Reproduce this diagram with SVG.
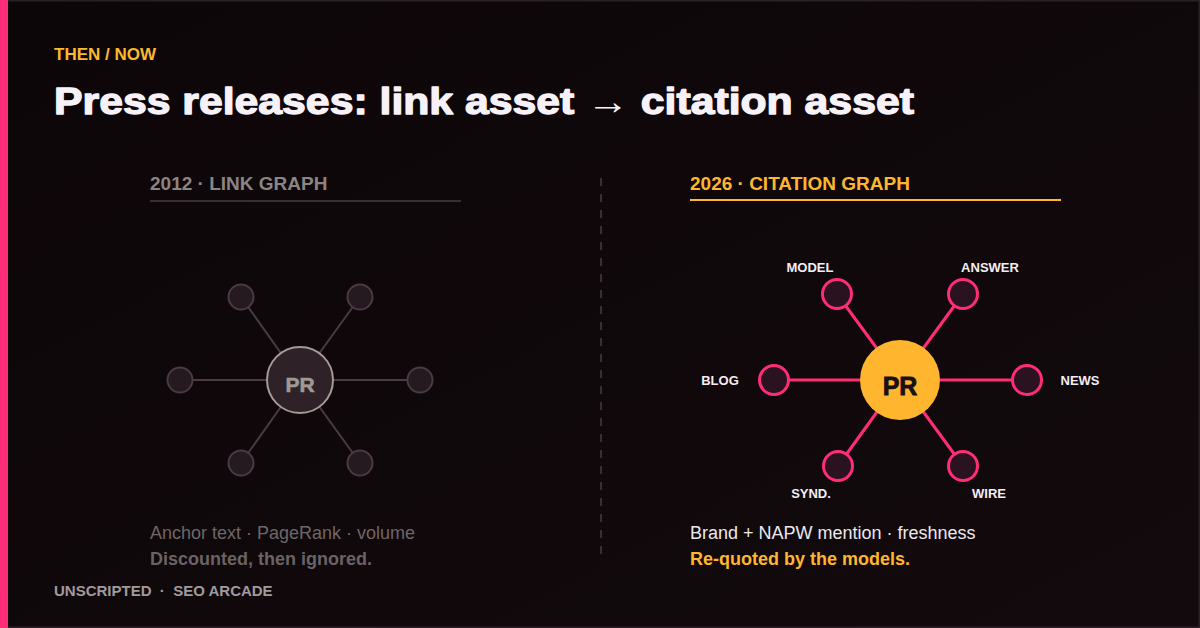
<svg xmlns="http://www.w3.org/2000/svg" width="1200" height="628" viewBox="0 0 1200 628">
<defs>
<style>
text{font-family:"Liberation Sans",Arial,sans-serif}
.b{font-weight:bold}
.ol{stroke:#4a3a44;stroke-width:2}
.os{fill:#241a20;stroke:#4a3a44;stroke-width:2}
.nl{stroke:#ff2d78;stroke-width:3}
.ns{fill:#2a1220;stroke:#ff2d78;stroke-width:3}
.lab{font-size:13px;font-weight:bold;fill:#f4eef4;text-anchor:middle}
</style>
<linearGradient id="bg" x1="0" y1="0" x2="1" y2="1">
<stop offset="0" stop-color="#0d0609"/>
<stop offset="1" stop-color="#120a0c"/>
</linearGradient>
</defs>
<rect width="1200" height="628" fill="url(#bg)"/>
<rect x="0.5" y="0.5" width="1199" height="627" fill="none" stroke="#2a2026" stroke-width="2"/>
<rect x="0" y="0" width="8" height="628" fill="#ff2d78"/>
<text x="54" y="60" class="b" font-size="17" fill="#fbb92e">THEN / NOW</text>
<text transform="translate(54,114) scale(1.155,1)" x="0" y="0" class="b" font-size="37" fill="#f6f2f8" stroke="#f6f2f8" stroke-width="1.3" stroke-linejoin="round">Press releases: link asset <tspan stroke="none" font-weight="normal">→</tspan> citation asset</text>

<g id="header-2012">
<text x="150" y="190" class="b" font-size="19" fill="#8a8482">2012 · LINK GRAPH</text>
<rect x="150" y="200" width="311" height="2" fill="#3a2e34"/>
</g>
<g id="header-2026">
<text x="690" y="190" class="b" font-size="19" fill="#ffb62e">2026 · CITATION GRAPH</text>
<rect x="690" y="199" width="371" height="2" fill="#ffb62e"/>
</g>
<line x1="601" y1="178" x2="601" y2="556" stroke="#3a2f36" stroke-width="2" stroke-dasharray="8 8"/>

<g id="connectors">
<line class="ol" x1="300" y1="380" x2="241" y2="297"/>
<line class="ol" x1="300" y1="380" x2="360" y2="297"/>
<line class="ol" x1="300" y1="380" x2="180" y2="380"/>
<line class="ol" x1="300" y1="380" x2="420" y2="380"/>
<line class="ol" x1="300" y1="380" x2="241" y2="463"/>
<line class="ol" x1="300" y1="380" x2="360" y2="463"/>
<line class="nl" x1="900" y1="380" x2="837" y2="294"/>
<line class="nl" x1="900" y1="380" x2="963" y2="294"/>
<line class="nl" x1="900" y1="380" x2="774" y2="380"/>
<line class="nl" x1="900" y1="380" x2="1027" y2="380"/>
<line class="nl" x1="900" y1="380" x2="838" y2="466"/>
<line class="nl" x1="900" y1="380" x2="963" y2="466"/>
</g>

<g id="old-pr"><circle cx="300" cy="380" r="33" fill="#2e2228" stroke="#a39a98" stroke-width="2"/><text x="300" y="392" class="b" font-size="21" fill="#a09896" text-anchor="middle" stroke="#a09896" stroke-width="0.6">PR</text></g>
<g id="old-1"><circle class="os" cx="241" cy="297" r="12.5"/></g>
<g id="old-2"><circle class="os" cx="360" cy="297" r="12.5"/></g>
<g id="old-3"><circle class="os" cx="180" cy="380" r="12.5"/></g>
<g id="old-4"><circle class="os" cx="420" cy="380" r="12.5"/></g>
<g id="old-5"><circle class="os" cx="241" cy="463" r="12.5"/></g>
<g id="old-6"><circle class="os" cx="360" cy="463" r="12.5"/></g>

<g id="new-pr"><circle cx="900" cy="380" r="40" fill="#ffb62e"/><text x="900" y="395" class="b" font-size="25" fill="#1a0f12" text-anchor="middle" stroke="#1a0f12" stroke-width="0.8">PR</text></g>
<g id="model"><circle class="ns" cx="837" cy="294" r="14.5"/><text class="lab" x="810" y="272">MODEL</text></g>
<g id="answer"><circle class="ns" cx="963" cy="294" r="14.5"/><text class="lab" x="990" y="272">ANSWER</text></g>
<g id="blog"><circle class="ns" cx="774" cy="380" r="14.5"/><text class="lab" x="720" y="385">BLOG</text></g>
<g id="news"><circle class="ns" cx="1027" cy="380" r="14.5"/><text class="lab" x="1080" y="385">NEWS</text></g>
<g id="synd"><circle class="ns" cx="838" cy="466" r="14.5"/><text class="lab" x="811" y="498">SYND.</text></g>
<g id="wire"><circle class="ns" cx="963" cy="466" r="14.5"/><text class="lab" x="989" y="498">WIRE</text></g>

<text x="150" y="539" font-size="18" fill="#6e6668">Anchor text · PageRank · volume</text>
<text x="150" y="565" class="b" font-size="18" fill="#6a6264">Discounted, then ignored.</text>
<text x="690" y="539" font-size="18" fill="#ece8ee">Brand + NAPW mention · freshness</text>
<text x="690" y="565" class="b" font-size="18" fill="#ffb62e">Re-quoted by the models.</text>
<text x="54" y="596" class="b" font-size="15" fill="#a09a9c" xml:space="preserve">UNSCRIPTED  ·  SEO ARCADE</text>
</svg>
